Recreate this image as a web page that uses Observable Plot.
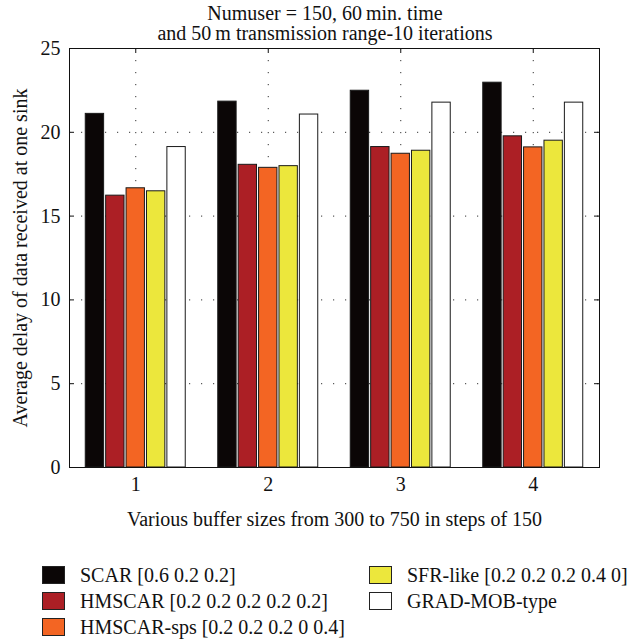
<!DOCTYPE html>
<html>
<head>
<meta charset="utf-8">
<script src="https://cdn.jsdelivr.net/npm/d3@7"></script>
<script src="https://cdn.jsdelivr.net/npm/@observablehq/plot@0.6"></script>
<style>
  body { margin: 0; background: #fff; overflow: hidden; }
  #wrap { position: relative; width: 627px; height: 642px; overflow: hidden; font-family: "Liberation Serif", "Times New Roman", serif; color: #111; }
  #chart { position: absolute; left: 0; top: 0; }
  #title { position: absolute; left: 60px; width: 530px; top: 3px; text-align: center; font-size: 20px; line-height: 20px; }
  #legend { position: absolute; left: 42px; top: 562px; display: grid; grid-template-columns: 327px auto; grid-auto-flow: column; grid-template-rows: repeat(3, 26px); font-size: 20px; white-space: nowrap; }
  .item { display: flex; align-items: center; height: 26px; white-space: nowrap; }
  .sw { width: 21px; height: 16px; border: 1px solid #222; margin-right: 15px; flex: none; }
</style>
</head>
<body>
<div id="wrap">
  <div id="chart"></div>
  <div id="title">Numuser = 150, 60&#8201;min. time<br>and 50&#8201;m transmission range-10 iterations</div>
  <div id="legend"></div>
</div>
<script>
// Buffer-size steps on the x axis
const groups = [1, 2, 3, 4];
// Series names, in bar order within each group
const series = [
  "SCAR [0.6 0.2 0.2]",
  "HMSCAR [0.2 0.2 0.2 0.2 0.2]",
  "HMSCAR-sps [0.2 0.2 0.2 0 0.4]",
  "SFR-like [0.2 0.2 0.2 0.4 0]",
  "GRAD-MOB-type"
];
// Average delay per series, one value per buffer size
const scar      = [21.1, 21.83, 22.48, 22.96];
const hmscar    = [16.22, 18.06, 19.12, 19.76];
const hmscarSps = [16.66, 17.88, 18.72, 19.1];
const sfrLike   = [16.48, 17.98, 18.9, 19.5];
const gradMob   = [19.12, 21.06, 21.77, 21.77];
const colors = ["#0b0606", "#ac1f25", "#f36523", "#ece73c", "#ffffff"];
const yTicks = [0, 5, 10, 15, 20, 25];
const gridY = [5, 10, 15, 20];

const values = [scar, hmscar, hmscarSps, sfrLike, gradMob];

// grouped-bar layout: five bars share a slot of width groupWidth around each group
const groupWidth = 0.77;
const step = groupWidth / series.length;
const barWidth = step * 0.9;
const rows = [];
series.forEach((s, i) => {
  groups.forEach((g, j) => {
    const c = g - groupWidth / 2 + step * (i + 0.5);
    rows.push({series: s, group: g, value: values[i][j], x1: c - barWidth / 2, x2: c + barWidth / 2});
  });
});

const width = 627, marginLeft = 69, marginRight = 28, marginTop = 48, marginBottom = 73;
const height = marginTop + 419 + marginBottom;
const innerW = width - marginLeft - marginRight;
const innerH = height - marginTop - marginBottom;
const dots = "1.2,10.8";

const plot = Plot.plot({
  width, height, marginLeft, marginRight, marginTop, marginBottom,
  style: {fontFamily: "'Liberation Serif', 'Times New Roman', serif", fontSize: "20px", color: "#111", background: "#fff"},
  x: {domain: [0.5, 4.5]},
  y: {domain: [0, 25]},
  color: {domain: series, range: colors},
  marks: [
    // dotted grid
    Plot.ruleY(gridY, {stroke: "#333", strokeDasharray: dots, strokeWidth: 1}),
    Plot.ruleX(groups, {stroke: "#333", strokeDasharray: dots, strokeWidth: 1}),
    // bars
    Plot.rectY(rows, {x1: "x1", x2: "x2", y: "value", fill: "series", stroke: "#1a1a1a", strokeWidth: 1}),
    // inward ticks on the left, right and top edges
    Plot.tickY(yTicks, {y: d => d, insetRight: innerW - 5, stroke: "#111"}),
    Plot.tickY(yTicks, {y: d => d, insetLeft: innerW - 5, stroke: "#111"}),
    Plot.tickX(groups, {x: d => d, insetBottom: innerH - 5, stroke: "#111"}),
    Plot.frame({stroke: "#111", strokeWidth: 1}),
    Plot.axisX({ticks: groups, tickFormat: d => String(d), tickSize: 0, tickPadding: 9, label: "Various buffer sizes from 300 to 750 in steps of 150", labelAnchor: "center", labelArrow: "none", labelOffset: 58}),
    Plot.axisY({ticks: yTicks, tickFormat: d => String(d), tickSize: 0, tickPadding: 9, label: "Average delay of data received at one sink", labelAnchor: "center", labelArrow: "none", labelOffset: 57})
  ]
});
document.getElementById("chart").appendChild(plot);

// legend, filled column by column
const legend = document.getElementById("legend");
series.forEach((s, i) => {
  const item = document.createElement("div");
  item.className = "item";
  const sw = document.createElement("span");
  sw.className = "sw";
  sw.style.background = colors[i];
  const label = document.createElement("span");
  label.textContent = s;
  item.append(sw, label);
  legend.appendChild(item);
});
</script>
</body>
</html>
